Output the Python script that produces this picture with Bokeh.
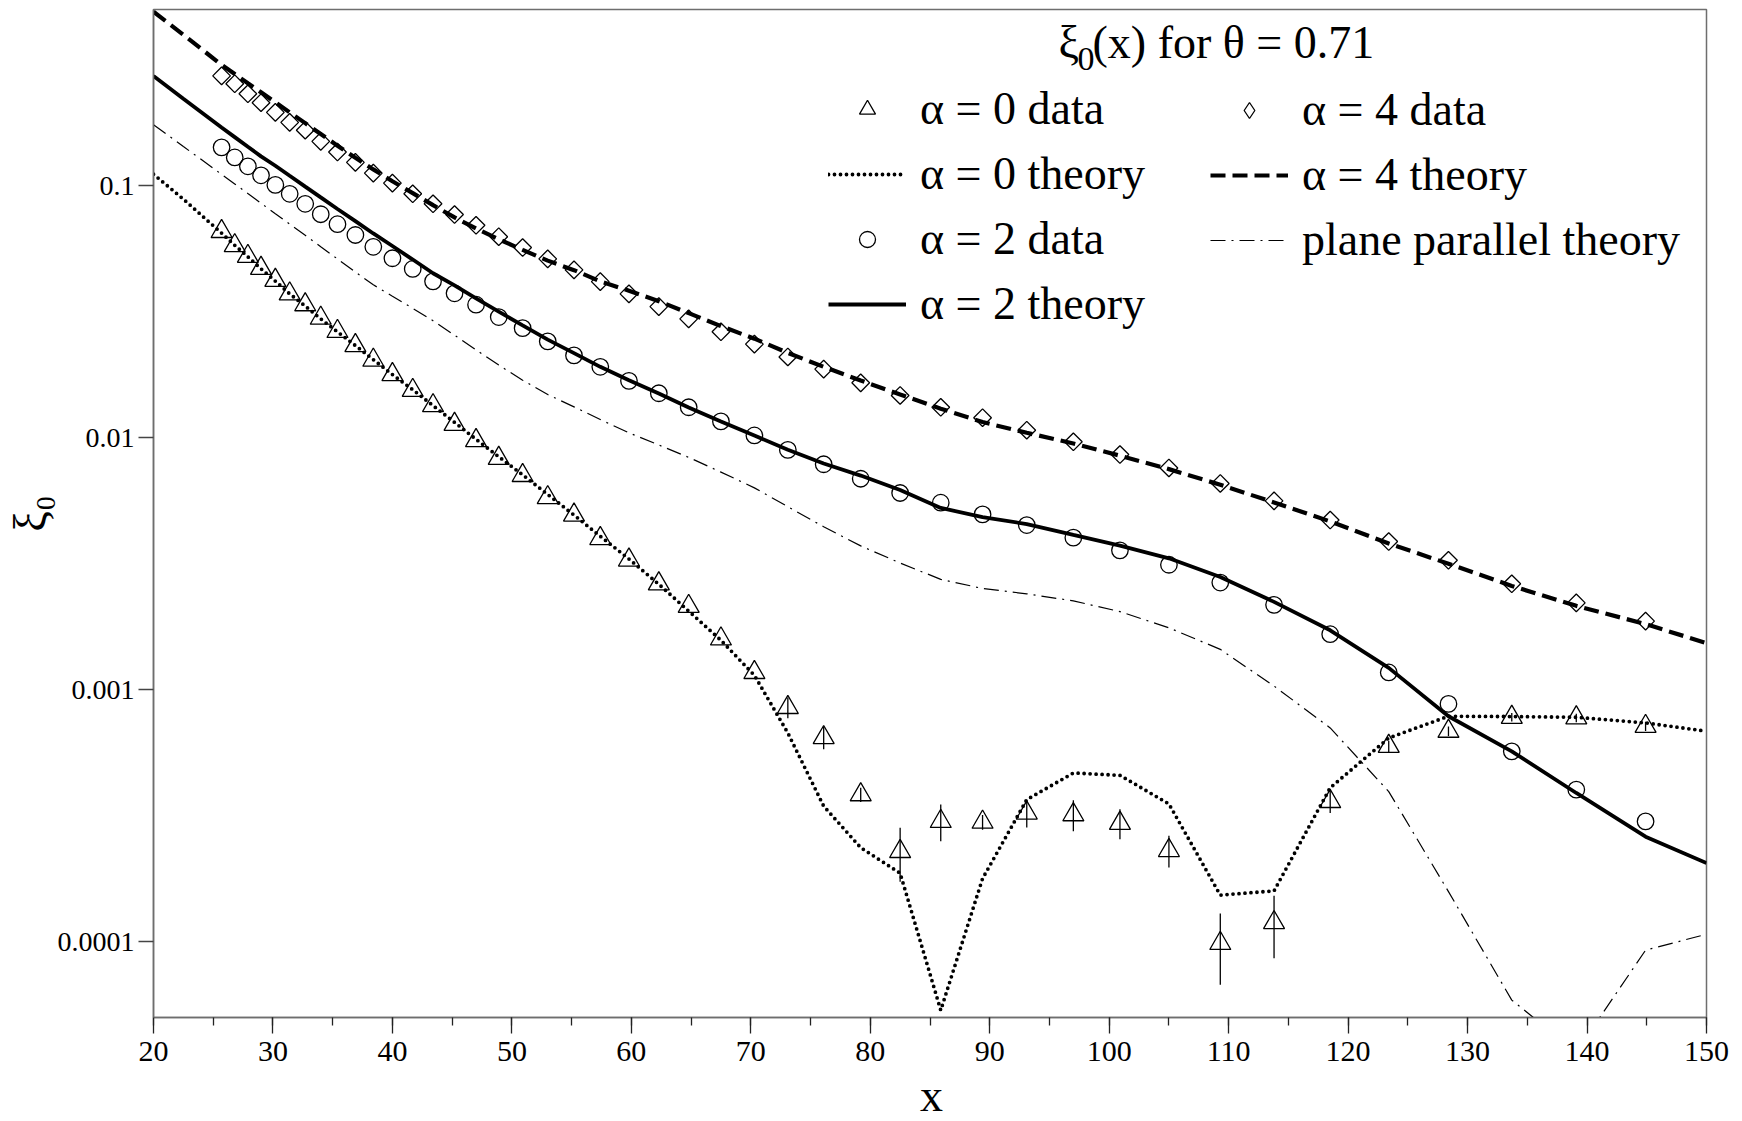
import numpy as np
from bokeh.plotting import figure
from bokeh.models import (Range1d, FixedTicker, SingleIntervalTicker, CustomJSTickFormatter,
                          Legend, LegendItem, Label, ColumnDataSource)
from bokeh.embed import file_html
from bokeh.resources import INLINE

# ---------------------------------------------------------------- data
x_data = [25.7, 26.8, 27.9, 29.0, 30.2, 31.4, 32.7, 34.0, 35.4, 36.9,
          38.4, 40.0, 41.7, 43.4, 45.2, 47.0, 48.9, 50.9, 53.0, 55.2,
          57.4, 59.8, 62.3, 64.8, 67.5, 70.3, 73.1, 76.1, 79.2, 82.5,
          85.9, 89.4, 93.1, 97.0, 100.9, 105.0, 109.3, 113.8, 118.5, 123.4,
          128.4, 133.7, 139.1, 144.9]

alpha0_data = [0.0658, 0.0578, 0.0524, 0.0470, 0.0421, 0.0372, 0.0337, 0.0298, 0.0264, 0.0232,
               0.0203, 0.0178, 0.0154, 0.0134, 0.0113, 0.00974, 0.00828, 0.00708, 0.00578, 0.00493,
               0.00398, 0.00327, 0.00263, 0.00214, 0.00159, 0.00117, 0.000850, 0.000645, 0.000383, 0.000228,
               0.000300, 0.000298, 0.000324, 0.000319, 0.000295, 0.000230, 0.0000984, 0.000119, 0.000360, 0.000596,
               0.000684, 0.000777, 0.000773, 0.000715]

alpha0_err = [0, 0, 0, 0, 0, 0, 0, 0, 0, 0,
              0, 0, 0, 0, 0, 0, 0, 0, 0, 0,
              0, 0, 0, 0, 0, 0, 0.00008, 0.000065, 0.000025, 0.000055,
              0.00005, 0.00002, 0.00004, 0.000045, 0.00004, 0.000033, 0.000031, 0.000033, 0.000036, 0.00003,
              0.00003, 0.00003, 0.00003, 0.00003]

alpha2_data = [0.1419, 0.1294, 0.1193, 0.1099, 0.1007, 0.0928, 0.0847, 0.0770, 0.0703, 0.0637,
               0.0572, 0.0515, 0.0467, 0.0417, 0.0374, 0.0337, 0.0301, 0.0272, 0.0241, 0.0212,
               0.0191, 0.0168, 0.0150, 0.0132, 0.0116, 0.0102, 0.00894, 0.00784, 0.00687, 0.00603,
               0.00552, 0.00496, 0.00450, 0.00401, 0.00357, 0.00313, 0.00266, 0.00217, 0.00166, 0.00117,
               0.000878, 0.000569, 0.000401, 0.000300]

alpha4_data = [0.2726, 0.2537, 0.2314, 0.2133, 0.1953, 0.1782, 0.1659, 0.1499, 0.1359, 0.1237,
               0.1121, 0.1023, 0.0928, 0.0847, 0.0768, 0.0696, 0.0627, 0.0568, 0.0512, 0.0463,
               0.0416, 0.0372, 0.0331, 0.0296, 0.0263, 0.0235, 0.0209, 0.0187, 0.0165, 0.0147,
               0.0132, 0.0120, 0.0107, 0.00963, 0.00857, 0.00758, 0.00658, 0.00561, 0.00471, 0.00387,
               0.00326, 0.00263, 0.00221, 0.00187]

x_theory = [20.0, 22.5, 25.7, 26.8, 27.9, 29.0, 30.2, 31.4, 32.7, 34.0, 35.4, 36.9,
            38.4, 40.0, 41.7, 43.4, 45.2, 47.0, 48.9, 50.9, 53.0, 55.2,
            57.4, 59.8, 62.3, 64.8, 67.5, 70.3, 73.1, 76.1, 79.2, 82.5,
            85.9, 89.4, 93.1, 97.0, 100.9, 105.0, 109.3, 113.8, 118.5, 123.4,
            128.4, 133.7, 139.1, 144.9, 150.0]

alpha0_theory = [0.111, 0.0884, 0.0648, 0.0580, 0.0522, 0.0468, 0.0418, 0.0372, 0.0333, 0.0296, 0.0263, 0.0232,
                 0.0204, 0.0178, 0.0155, 0.0134, 0.0115, 0.00985, 0.00840, 0.00712, 0.00595, 0.00493,
                 0.00406, 0.00330, 0.00262, 0.00205, 0.00157, 0.00114, 0.000673, 0.000345, 0.000236, 0.000187,
                 0.0000534, 0.000178, 0.000366, 0.000467, 0.000457, 0.000352, 0.000153, 0.000159, 0.000408, 0.000643,
                 0.000784, 0.000782, 0.000777, 0.000738, 0.000684]

alpha2_theory = [0.2726, 0.2213, 0.1702, 0.1558, 0.1426, 0.1307, 0.1199, 0.1094, 0.0991, 0.0898, 0.0808, 0.0723,
                 0.0646, 0.0576, 0.0509, 0.0449, 0.0402, 0.0357, 0.0316, 0.0279, 0.0245, 0.02165,
                 0.0191, 0.0169, 0.01496, 0.01318, 0.01158, 0.01019, 0.00895, 0.00790, 0.00707, 0.00620,
                 0.00526, 0.00484, 0.00454, 0.00411, 0.00373, 0.00332, 0.00280, 0.00223, 0.00172, 0.00122,
                 0.000784, 0.000569, 0.000389, 0.000261, 0.000205]

alpha4_theory = [0.490, 0.397, 0.3015, 0.2773, 0.2550, 0.2346, 0.2142, 0.1954, 0.1770, 0.1603, 0.1441, 0.1289,
                 0.1160, 0.1041, 0.0934, 0.0837, 0.0748, 0.0676, 0.0613, 0.0556, 0.0504, 0.0462,
                 0.0417, 0.0383, 0.0348, 0.0312, 0.0277, 0.0247, 0.0217, 0.0191, 0.01686, 0.01483,
                 0.01303, 0.01153, 0.01045, 0.00948, 0.00848, 0.00750, 0.00650, 0.00553, 0.00465, 0.00380,
                 0.00316, 0.00258, 0.00215, 0.00182, 0.00153]

plane_theory = [0.1746, 0.1430, 0.1109, 0.1016, 0.0930, 0.0852, 0.0774, 0.0704, 0.0635, 0.0572, 0.0512, 0.0454,
                0.0404, 0.0364, 0.0326, 0.0291, 0.0255, 0.0223, 0.0194, 0.0169, 0.01483, 0.01325,
                0.01180, 0.01045, 0.00935, 0.00835, 0.00730, 0.00632, 0.00532, 0.00443, 0.00372, 0.00318,
                0.00274, 0.00252, 0.00240, 0.00225, 0.00204, 0.00176, 0.001445, 0.001033, 0.000705, 0.000394,
                0.000158, 0.0000586, 0.0000365, 0.0000925, 0.000107]

y_ticks = [0.0001, 0.001, 0.01, 0.1]

# ---------------------------------------------------------------- figure
SERIF = "Liberation Serif"
INK = "black"
FRAME = "#6e6e6e"

p = figure(width=1742, height=1121, x_range=Range1d(20, 150), y_range=Range1d(5e-5, 0.5),
           y_axis_type="log", output_backend="svg", toolbar_location=None,
           min_border_left=153, min_border_right=36, min_border_top=9, min_border_bottom=104)
p.background_fill_color = "white"
p.border_fill_color = "white"
p.grid.visible = False
p.outline_line_color = FRAME
p.outline_line_width = 1.5

xa = p.xaxis[0]
xa.ticker = SingleIntervalTicker(interval=10, num_minor_ticks=2)
xa.axis_line_color = FRAME
xa.axis_line_width = 1.5
xa.major_tick_out = 16
xa.major_tick_in = 0
xa.minor_tick_out = 8
xa.minor_tick_in = 0
xa.major_tick_line_color = "#222222"
xa.minor_tick_line_color = "#222222"
xa.major_tick_line_width = 1.3
xa.minor_tick_line_width = 1.3
xa.major_label_standoff = 8
xa.major_label_text_font = SERIF
xa.major_label_text_font_size = "30px"
xa.major_label_text_color = INK

ya = p.yaxis[0]
ya.ticker = FixedTicker(ticks=y_ticks, minor_ticks=[])
ya.formatter = CustomJSTickFormatter(code="return String(tick)")
ya.axis_line_color = FRAME
ya.axis_line_width = 1.5
ya.major_tick_out = 15
ya.major_tick_in = 0
ya.minor_tick_line_color = None
ya.major_tick_line_color = "#444444"
ya.major_tick_line_width = 1.3
ya.major_label_standoff = 4
ya.major_label_text_font = SERIF
ya.major_label_text_font_size = "28px"
ya.major_label_text_color = INK
ya.axis_label = "ξ₀"
ya.axis_label_text_font = SERIF
ya.axis_label_text_font_size = "46px"
ya.axis_label_text_font_style = "normal"
ya.axis_label_text_color = INK
ya.axis_label_standoff = -1

# ---------------------------------------------------------------- theory curves
r_pp = p.line(x_theory, plane_theory, line_color=INK, line_width=1.2, line_dash="15 6 2 6")
r_t0 = p.line(x_theory, alpha0_theory, line_color=INK, line_width=3.8, line_dash="0 6",
              line_cap="round")
r_t2 = p.line(x_theory, alpha2_theory, line_color=INK, line_width=3.8)
r_t4 = p.line(x_theory, alpha4_theory, line_color=INK, line_width=4.2, line_dash="15 7")

# ---------------------------------------------------------------- measurements
y0 = np.array(alpha0_data)
e0 = np.array(alpha0_err)
p.segment(x0=x_data, y0=y0 - e0, x1=x_data, y1=y0 + e0, line_color=INK, line_width=1.3)

r_d0 = p.scatter(x_data, alpha0_data, marker="triangle", size=21, fill_alpha=0,
                 line_color=INK, line_width=1.3)
r_d2 = p.scatter(x_data, alpha2_data, marker="circle", size=16.5, fill_alpha=0,
                 line_color=INK, line_width=1.3)
r_d4 = p.scatter(x_data, alpha4_data, marker="square", angle=np.pi / 4, size=12.5, fill_alpha=0,
                 line_color=INK, line_width=1.3)
# key symbol for the α = 4 points (holds no visible point of its own)
key_d4 = p.scatter(x="x", y="y", source=ColumnDataSource(dict(x=[np.nan], y=[np.nan])),
                   marker="diamond", size=14, fill_alpha=0, line_color=INK, line_width=1.3)

# ---------------------------------------------------------------- key
def make_key(items, loc):
    lg = Legend(items=items, location=loc, orientation="vertical",
                glyph_width=78, glyph_height=40, label_standoff=14, spacing=12,
                padding=0, margin=0, border_line_color=None, background_fill_alpha=0,
                label_text_font=SERIF, label_text_font_size="46px", label_text_color=INK,
                label_height=40)
    p.add_layout(lg)
    return lg

make_key([LegendItem(label="α = 0 data", renderers=[r_d0]),
          LegendItem(label="α = 0 theory", renderers=[r_t0]),
          LegendItem(label="α = 2 data", renderers=[r_d2]),
          LegendItem(label="α = 2 theory", renderers=[r_t2])], (675, 687))
make_key([LegendItem(label="α = 4 data", renderers=[key_d4]),
          LegendItem(label="α = 4 theory", renderers=[r_t4]),
          LegendItem(label="plane parallel theory", renderers=[r_pp])], (1057, 751))


def text_label(txt, sx, sy, size, align="left"):
    return Label(x=sx, y=sy, x_units="screen", y_units="screen", text=txt,
                 text_font=SERIF, text_font_size=size, text_align=align,
                 text_baseline="middle", text_color=INK)


# key heading: ξ0(x) for θ = 0.71
p.add_layout(text_label("ξ", 905, 975, "46px"))
p.add_layout(text_label("0", 924, 959, "34px"))
p.add_layout(text_label("(x) for θ = 0.71", 939, 975, "46px"))

# x axis title, kept in the right margin panel so it is not clipped to the frame
p.add_layout(text_label("x", -775, -78, "46px", align="center"), "right")

open("out.html", "w").write(file_html(p, INLINE))
